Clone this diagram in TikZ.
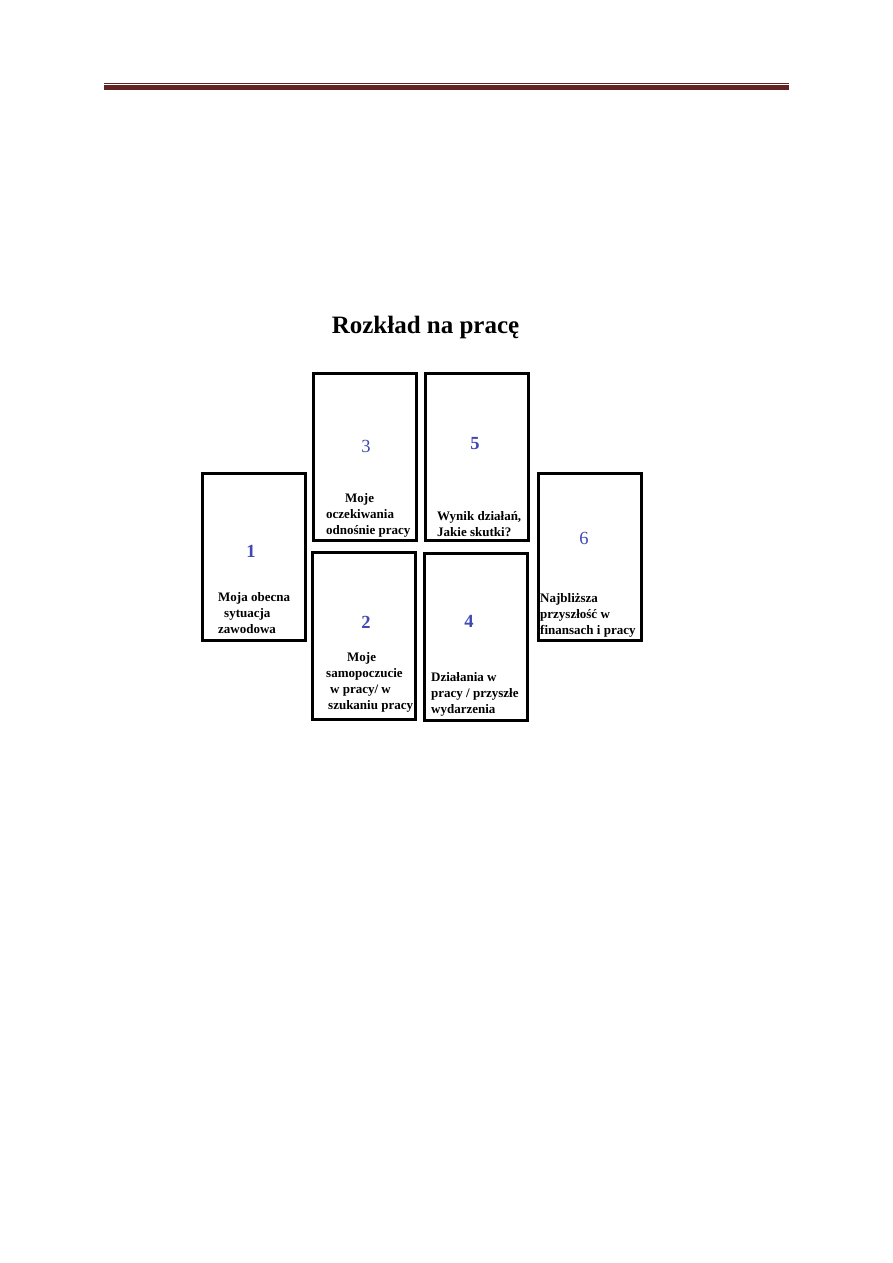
\documentclass[tikz,border=0pt]{standalone}
\usepackage{fontspec}
\setmainfont{Liberation Serif}
\definecolor{rulered}{RGB}{98,36,35}
\definecolor{numblue}{RGB}{63,72,180}
\tikzset{
  card/.style={draw,line width=3pt,minimum width=103pt,minimum height=167pt,inner sep=0pt},
  num/.style={text=numblue,font=\fontsize{18.5}{20}\selectfont,inner sep=0pt},
  lbl/.style={font=\fontsize{13}{16}\selectfont\bfseries,inner sep=0pt,anchor=north west,align=left},
}

\begin{document}
\begin{tikzpicture}[x=1pt,y=-1pt]
  \useasboundingbox[fill=white] (0,0) rectangle (893,1263);
  % page header rule
  \fill[rulered] (104,82.5) rectangle (789,83.7);
  \fill[rulered] (104,84.8) rectangle (789,89.5);
  \node[font=\fontsize{25}{28}\selectfont\bfseries,anchor=base] (title) at (425.5,333) {Rozkład na pracę};
  % the six cards
  \foreach \n/\x/\y in {1/254/556.5,3/364.5/456.5,5/476.5/457,2/364/636,4/475.5/637,6/589.5/556.5} {
    \node[card] (c\n) at (\x,\y) {};
  }
  \node[num] (n1) at (251,551) {\textbf{1}};
  \node[num] (n3) at (366,446) {3};
  \node[num] (n5) at (475,444) {\textbf{5}};
  \node[num] (n2) at (366,622) {\textbf{2}};
  \node[num] (n4) at (469,621) {\textbf{4}};
  \node[num] (n6) at (584,538) {6};
  % card texts
  \node[lbl] (t1) at (218,592) {Moja obecna\\\hspace*{6pt}sytuacja\\zawodowa};
  \node[lbl] (t3) at (326,493) {\hspace*{19pt}Moje\\oczekiwania\\odnośnie pracy};
  \node[lbl] (t5) at (437,511) {Wynik działań,\\Jakie skutki?};
  \node[lbl] (t2) at (326,652) {\hspace*{21pt}Moje\\samopoczucie\\\hspace*{4pt}w pracy/ w\\\hspace*{2pt}szukaniu pracy};
  \node[lbl] (t4) at (431,672) {Działania w\\pracy / przyszłe\\wydarzenia};
  \node[lbl] (t6) at (540,593) {Najbliższa\\przyszłość w\\finansach i pracy};
\end{tikzpicture}
\end{document}
